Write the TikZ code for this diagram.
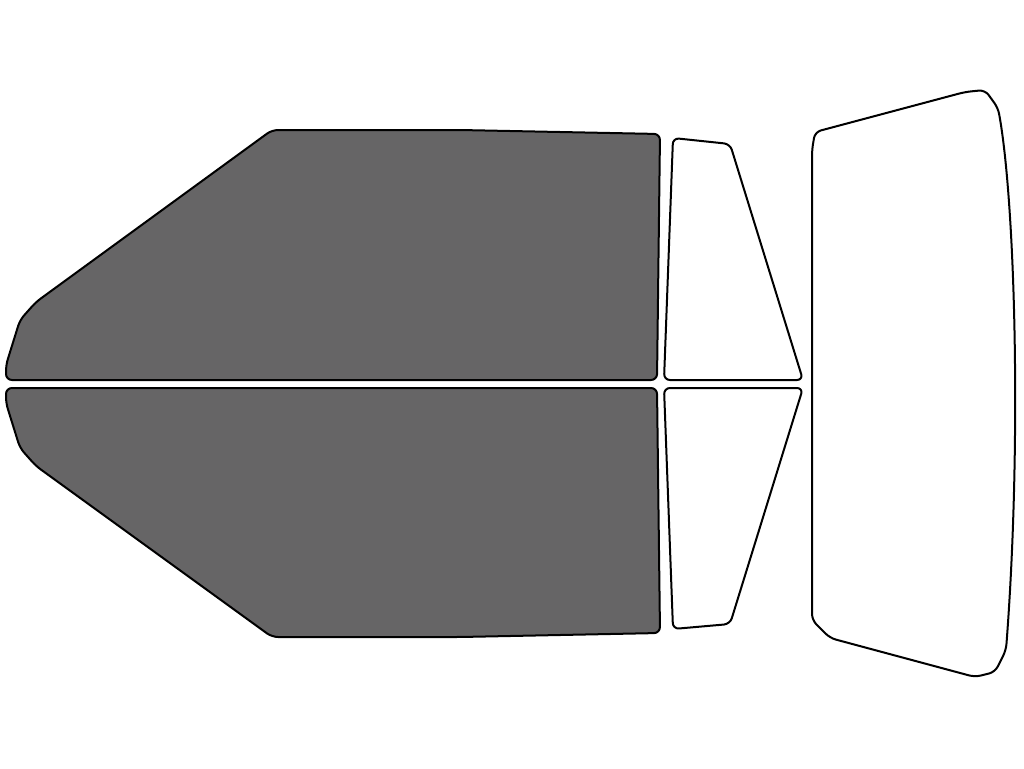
\documentclass[tikz,border=0pt]{standalone}
\begin{document}
\begin{tikzpicture}[x=1pt,y=-1pt,
 pane/.style={draw=black,line width=2pt,rounded corners=6pt,line join=round},
 tinted/.style={pane,fill={rgb,255:red,102;green,101;blue,102}},
 clear/.style={pane,fill=white}]
\useasboundingbox (0,0) rectangle (1024,768);
\fill[white] (0,0) rectangle (1024,768);
\draw[tinted] (272,130) -- (460,130) -- (660,134) -- (657,380) -- (6,380) -- (6,365) -- (20,320) -- (36,302) -- cycle;
\draw[tinted] (6,388) -- (657,388) -- (660,633) -- (460,637) -- (272,637) -- (36,466) -- (20,448) -- (6,403) -- cycle;
\draw[clear] (673,138) -- (730,144) -- (803,380) -- (664,380) -- cycle;
\draw[clear] (664,388) -- (803,388) -- (730,624) -- (673,629) -- cycle;
\draw[clear] (812,150) -- (815,132) -- (965,92) -- (985,90) -- (998,108) .. controls (1015,200) and (1022,440) .. (1006,650) -- (995,672) -- (975,677) -- (830,638) -- (812,620) -- cycle;
\end{tikzpicture}
\end{document}
